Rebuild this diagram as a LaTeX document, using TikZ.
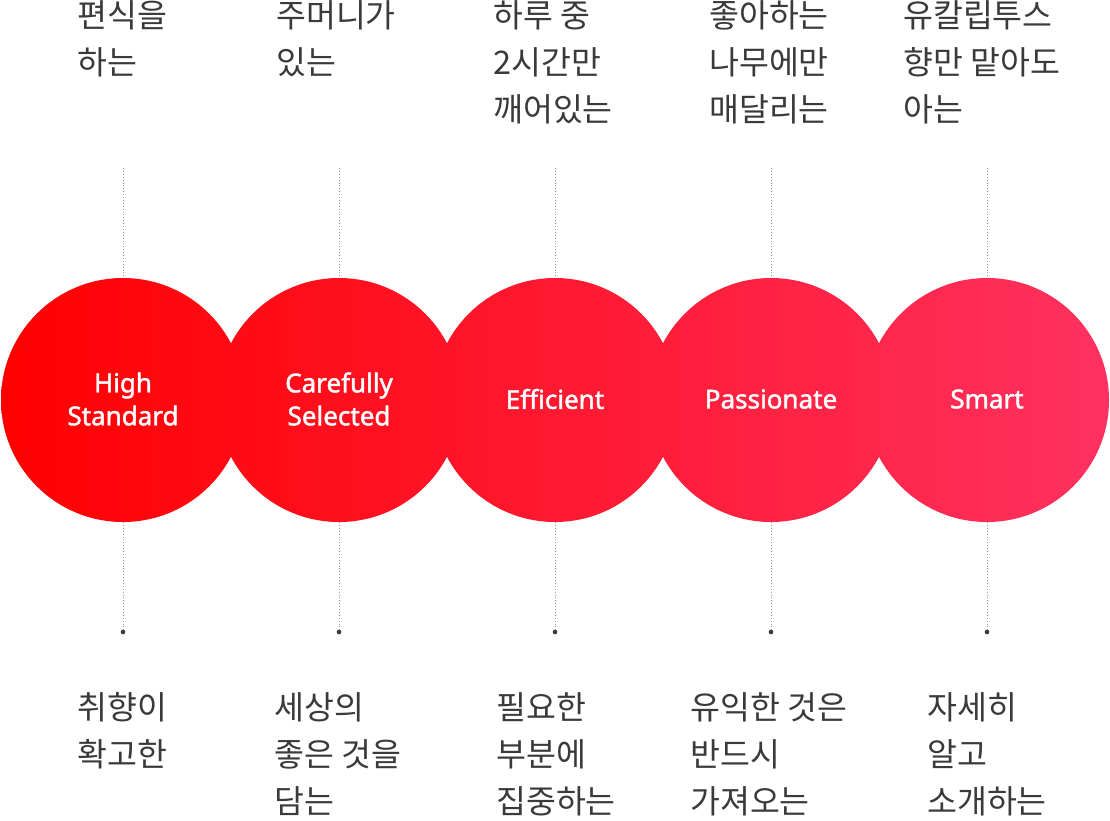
\documentclass[tikz,border=0pt]{standalone}
\usepackage{fontspec}
\setmainfont{Noto Sans CJK KR}
\newfontfamily\lat[FakeBold=1.6]{Noto Sans}
\definecolor{gl}{HTML}{FF0000}
\definecolor{gr}{HTML}{FF3160}
\definecolor{tx}{HTML}{3A3A3A}
\definecolor{ln}{HTML}{9A9A9A}
\begin{document}
\begin{tikzpicture}[x=1pt,y=1pt,
 lab/.style={anchor=north west,align=left,text=tx,font=\fontsize{32.5}{47}\selectfont,inner sep=0pt},
 ctext/.style={text=white,align=center,font=\lat\fontsize{26}{33}\selectfont},
 dl/.style={ln,dotted,line width=0.9pt}]
\useasboundingbox (0,0) rectangle (1110,-820);
\begin{scope}
\clip (123,-400) circle (122) (339,-400) circle (122) (555,-400) circle (122) (771,-400) circle (122) (987,-400) circle (122);
\shade[left color=gl,right color=gr] (0,-270) rectangle (1110,-530);
\end{scope}
\foreach \x/\n in {123/a,339/b,555/c,771/d,987/e}{
 \coordinate (t\n) at (\x,-168);
 \coordinate (u\n) at (\x,-278);
 \coordinate (v\n) at (\x,-522);
 \coordinate (w\n) at (\x,-632);
 \draw[dl] (t\n) -- (u\n);
 \draw[dl] (v\n) -- (w\n);
 \fill[tx] (w\n) circle (2.3);
}
\node[ctext] (ca) at (123,-399) {High\\Standard};
\node[ctext] (cb) at (339,-399) {Carefully\\Selected};
\node[ctext] (cc) at (555,-399) {Efficient};
\node[ctext] (cd) at (771,-399) {Passionate};
\node[ctext] (ce) at (987,-399) {Smart};
\node[lab] (pa) at (77,0) {편식을\\하는};
\node[lab] (pb) at (276,0) {주머니가\\있는};
\node[lab] (pc) at (493,0) {하루 중\\2시간만\\깨어있는};
\node[lab] (pd) at (709,0) {좋아하는\\나무에만\\매달리는};
\node[lab] (pe) at (903,0) {유칼립투스\\향만 맡아도\\아는};
\node[lab] (qa) at (77,-692) {취향이\\확고한};
\node[lab] (qb) at (274,-692) {세상의\\좋은 것을\\담는};
\node[lab] (qc) at (496,-692) {필요한\\부분에\\집중하는};
\node[lab] (qd) at (690,-692) {유익한 것은\\반드시\\가져오는};
\node[lab] (qe) at (927,-692) {자세히\\알고\\소개하는};
\end{tikzpicture}
\end{document}
